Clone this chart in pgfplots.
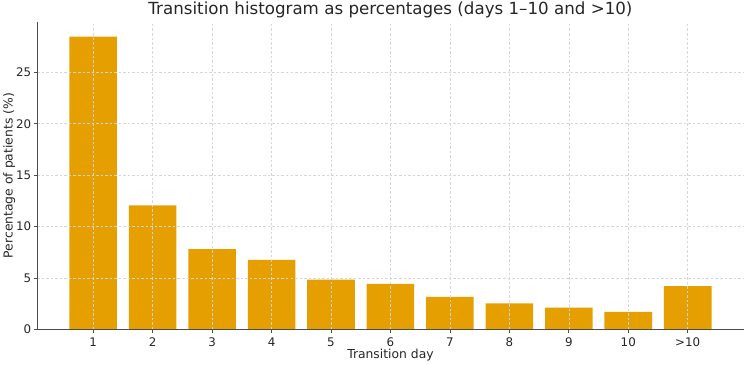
\documentclass[border=0pt]{standalone}
\usepackage{fontspec}
\setmainfont{DejaVu Sans}
\usepackage{pgfplots}
\pgfplotsset{compat=1.18}
\definecolor{barorange}{HTML}{E69F00}
\definecolor{txt}{HTML}{262626}
\definecolor{spine}{HTML}{4D4D4D}
\begin{document}
\begin{tikzpicture}
\begin{axis}[
  scale only axis,
  width=703pt, height=306pt,
  xmin=-0.94, xmax=10.94, ymin=0, ymax=29.9,
  axis x line*=bottom, axis y line*=left,
  axis line style={spine, line width=0.8pt},
  xtick={0,1,2,3,4,5,6,7,8,9,10},
  xticklabels={1,2,3,4,5,6,7,8,9,10,>10},
  ytick={0,5,10,15,20,25},
  tick align=outside,
  major tick length=3.5pt,
  tick style={spine, line width=0.8pt},
  grid=major,
  grid style={dash pattern=on 2.5pt off 2pt, gray!32, line width=0.6pt},
  axis on top,
  /pgf/number format/assume math mode=true,
  tick label style={font=\fontsize{11.8}{13}\selectfont, text=txt},
  xticklabel style={yshift=-1pt},
  yticklabel style={xshift=1pt},
  xlabel={Transition day},
  ylabel={Percentage of patients (\%)},
  label style={font=\fontsize{12.3}{14}\selectfont, text=txt},
  xlabel style={yshift=4.5pt},
  ylabel style={yshift=-6pt},
  title={Transition histogram as percentages (days 1–10 and >10)},
  title style={font=\fontsize{16.6}{19}\selectfont, text=txt, at={(0.5,1)}, anchor=south, yshift=-4pt, inner sep=1.8pt},
]
\addplot[ybar, bar width=0.8, fill=barorange, draw=none] coordinates {
(0,28.47) (1,12.05) (2,7.80) (3,6.76) (4,4.85) (5,4.43) (6,3.17) (7,2.52) (8,2.12) (9,1.70) (10,4.20)
};
\end{axis}
\end{tikzpicture}
\end{document}
